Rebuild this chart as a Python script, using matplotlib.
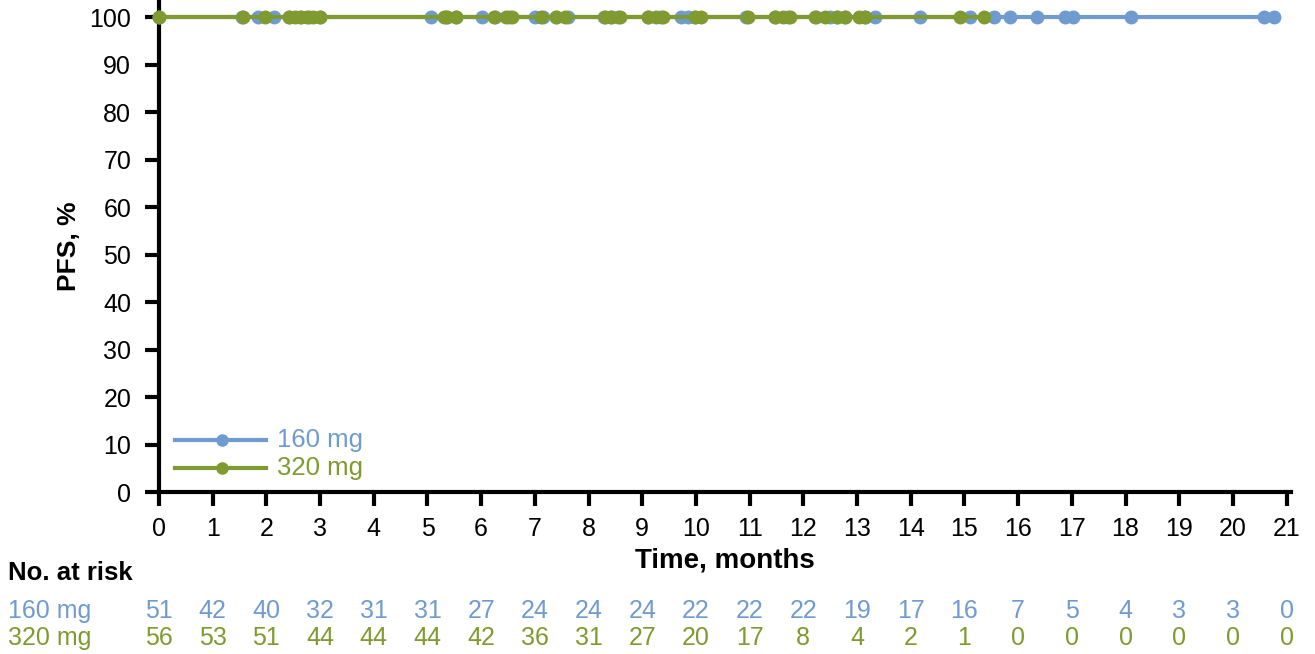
import matplotlib.pyplot as plt
from matplotlib.transforms import blended_transform_factory

plt.rcParams['font.family'] = ['Liberation Sans', 'DejaVu Sans']

BLUE = '#6f9bd1'
GREEN = '#7f9a2f'

groups = ['160 mg', '320 mg']
months = list(range(22))

# censor times (months), PFS stays at 100% throughout
cens_160 = [1.54, 1.84, 2.15, 2.43, 2.62, 2.80, 2.99, 5.06, 5.34, 5.53, 6.01, 6.25,
            6.51, 7.01, 7.16, 7.40, 7.61, 8.29, 8.42, 8.55, 9.11, 9.35, 9.72, 9.85,
            9.98, 10.93, 11.48, 11.71, 12.23, 12.50, 12.63, 12.78, 13.14, 13.34,
            14.17, 15.10, 15.55, 15.84, 16.35, 16.88, 17.03, 18.11, 20.57, 20.76]
cens_320 = [1.56, 1.97, 2.43, 2.54, 2.65, 2.76, 2.86, 2.99, 5.31, 5.36, 5.53, 6.23,
            6.47, 6.57, 7.12, 7.40, 7.57, 8.31, 8.42, 8.59, 9.11, 9.26, 9.39, 9.98,
            10.09, 10.96, 11.48, 11.63, 11.76, 12.21, 12.41, 12.63, 12.78, 13.04,
            13.14, 14.92, 15.36]
end_160 = 20.76
end_320 = 15.36

risk_160 = [51, 42, 40, 32, 31, 31, 27, 24, 24, 24, 22, 22, 22, 19, 17, 16, 7, 5, 4, 3, 3, 0]
risk_320 = [56, 53, 51, 44, 44, 44, 42, 36, 31, 27, 20, 17, 8, 4, 2, 1, 0, 0, 0, 0, 0, 0]

fig = plt.figure(figsize=(13.15, 6.54), dpi=100)
ax = fig.add_axes([0.1209, 0.2477, 0.8608, 0.751])

ax.plot([0, end_160], [100, 100], color=BLUE, lw=3, clip_on=False, zorder=3)
ax.plot([0] + cens_160, [100] * (len(cens_160) + 1), 'o', color=BLUE, ms=9,
        clip_on=False, zorder=3)
ax.plot([0, end_320], [100, 100], color=GREEN, lw=3, clip_on=False, zorder=4)
ax.plot([0] + cens_320, [100] * (len(cens_320) + 1), 'o', color=GREEN, ms=9,
        clip_on=False, zorder=4)

# legend drawn by hand
ax.plot([0.3, 2.0], [11, 11], color=BLUE, lw=3)
ax.plot([1.18], [11], 'o', color=BLUE, ms=8)
ax.text(2.2, 11, groups[0], color=BLUE, fontsize=18.5, va='center')
ax.plot([0.3, 2.0], [5, 5], color=GREEN, lw=3)
ax.plot([1.18], [5], 'o', color=GREEN, ms=8)
ax.text(2.2, 5, groups[1], color=GREEN, fontsize=18.5, va='center')

ax.set_xlim(0, 21.08)
ax.set_ylim(0, 103.5)
ax.set_xticks(months)
ax.set_yticks(range(0, 101, 10))
for s in ['top', 'right']:
    ax.spines[s].set_visible(False)
for s in ['left', 'bottom']:
    ax.spines[s].set_linewidth(3)
ax.tick_params(axis='both', width=3, length=10, labelsize=18, direction='out')
ax.tick_params(axis='x', pad=8)
ax.tick_params(axis='y', pad=10)
ax.set_ylabel('PFS, %', fontsize=19, fontweight='bold', labelpad=6)
ax.set_xlabel('Time, months', fontsize=20, fontweight='bold', labelpad=5)

# number at risk table
tr = blended_transform_factory(ax.transData, fig.transFigure)
fig.text(0.006, 1 - 573 / 654, 'No. at risk', fontsize=18.5, fontweight='bold',
         va='center')
fig.text(0.006, 1 - 611 / 654, groups[0], fontsize=18, color=BLUE, va='center')
fig.text(0.006, 1 - 638 / 654, groups[1], fontsize=18, color=GREEN, va='center')
for m, a, b in zip(months, risk_160, risk_320):
    ax.text(m, 1 - 611 / 654, str(a), transform=tr, fontsize=18, color=BLUE,
            ha='center', va='center')
    ax.text(m, 1 - 638 / 654, str(b), transform=tr, fontsize=18, color=GREEN,
            ha='center', va='center')

fig.savefig('out.png', dpi=100)
